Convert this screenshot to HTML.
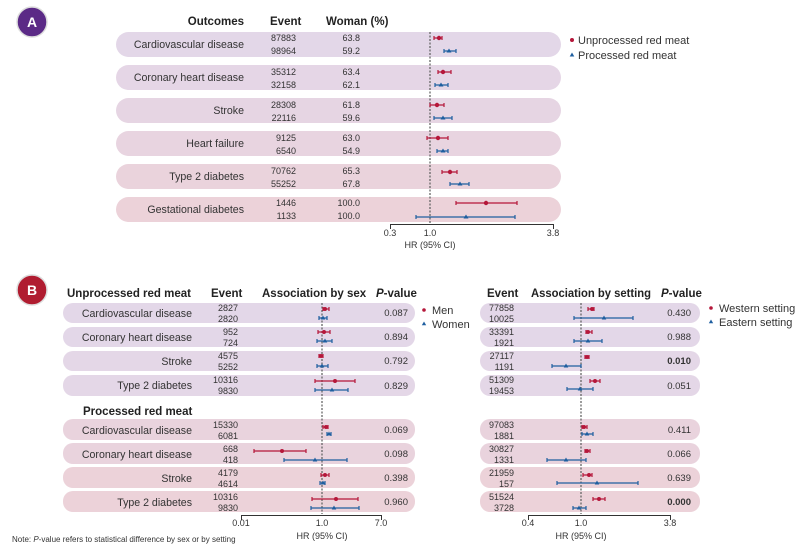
<!DOCTYPE html>
<html><head><meta charset="utf-8"><style>
body{margin:0;background:#fff}
svg{display:block;font-family:"Liberation Sans",sans-serif}
.h{font-weight:bold;font-size:11.5px;fill:#222}
.l{font-size:10.6px;fill:#333}
.n{font-size:9px;fill:#333}
.p{font-size:9.5px;fill:#333}
.r{stroke:#b5173a;stroke-width:1.2;fill:none}
.b{stroke:#1f5fa0;stroke-width:1.2;fill:none}
.rf{fill:#b5173a}.bf{fill:#1f5fa0}
.ax{stroke:#333;stroke-width:1;fill:none}
.d{stroke:#666;stroke-width:1.3;stroke-dasharray:2 1.5}
.lg{font-size:11px;fill:#333}
</style></head><body>
<svg width="811" height="555" viewBox="0 0 811 555">
<!-- Panel A -->
<circle cx="32" cy="22" r="15" fill="#5b2a86" stroke="#ddd" stroke-width="1.5"/>
<text x="32" y="27" text-anchor="middle" fill="#fff" font-weight="bold" font-size="14">A</text>
<text class="h" x="244" y="25" text-anchor="end">Outcomes</text>
<text class="h" x="270" y="25">Event</text>
<text class="h" x="326" y="25">Woman (%)</text>
<g>
<rect x="116" y="32" width="445" height="25" rx="12.5" fill="#e3d7e8"/>
<rect x="116" y="65" width="445" height="25" rx="12.5" fill="#e5d6e6"/>
<rect x="116" y="98" width="445" height="25" rx="12.5" fill="#e6d5e3"/>
<rect x="116" y="131" width="445" height="25" rx="12.5" fill="#e8d4e0"/>
<rect x="116" y="164" width="445" height="25" rx="12.5" fill="#ead3dc"/>
<rect x="116" y="197" width="445" height="25" rx="12.5" fill="#ecd2d9"/>
</g>
<g class="l" text-anchor="end">
<text x="244" y="48">Cardiovascular disease</text>
<text x="244" y="81">Coronary heart disease</text>
<text x="244" y="114">Stroke</text>
<text x="244" y="147">Heart failure</text>
<text x="244" y="180">Type 2 diabetes</text>
<text x="244" y="213">Gestational diabetes</text>
</g>
<g class="n" text-anchor="end">
<text x="296" y="41">87883</text><text x="296" y="54">98964</text>
<text x="296" y="75">35312</text><text x="296" y="88">32158</text>
<text x="296" y="108">28308</text><text x="296" y="121">22116</text>
<text x="296" y="141">9125</text><text x="296" y="154">6540</text>
<text x="296" y="174">70762</text><text x="296" y="187">55252</text>
<text x="296" y="206">1446</text><text x="296" y="219">1133</text>
</g>
<g class="n" text-anchor="end">
<text x="360" y="41">63.8</text><text x="360" y="54">59.2</text>
<text x="360" y="75">63.4</text><text x="360" y="88">62.1</text>
<text x="360" y="108">61.8</text><text x="360" y="121">59.6</text>
<text x="360" y="141">63.0</text><text x="360" y="154">54.9</text>
<text x="360" y="174">65.3</text><text x="360" y="187">67.8</text>
<text x="360" y="206">100.0</text><text x="360" y="219">100.0</text>
</g>
<line class="d" x1="430" y1="32" x2="430" y2="224"/>
<path class="ax" d="M390.5 229V224.5H553.5V229"/>
<g class="n" text-anchor="middle"><text x="390" y="236">0.3</text><text x="430" y="236">1.0</text><text x="553" y="236">3.8</text><text x="430" y="248">HR (95% CI)</text></g>
<g class="r">
<path d="M434 38H442M434 36V40M442 36V40"/>
<path d="M438 72H451M438 70V74M451 70V74"/>
<path d="M430 105H444M430 103V107M444 103V107"/>
<path d="M427 138H448M427 136V140M448 136V140"/>
<path d="M442 172H457M442 170V174M457 170V174"/>
<path d="M456 203H517M456 201V205M517 201V205"/>
</g>
<g class="rf"><circle cx="439" cy="38" r="2.2"/><circle cx="443" cy="72" r="2.2"/><circle cx="437" cy="105" r="2.2"/><circle cx="438" cy="138" r="2.2"/><circle cx="450" cy="172" r="2.2"/><circle cx="486" cy="203" r="2.2"/></g>
<g class="b">
<path d="M444 51H456M444 49V53M456 49V53"/>
<path d="M435 85H448M435 83V87M448 83V87"/>
<path d="M434 118H452M434 116V120M452 116V120"/>
<path d="M437 151H448M437 149V153M448 149V153"/>
<path d="M450 184H469M450 182V186M469 182V186"/>
<path d="M416 217H515M416 215V219M515 215V219"/>
</g>
<g class="bf">
<path d="M449 48.5l2.5 4h-5z"/><path d="M441 82.5l2.5 4h-5z"/><path d="M443 115.5l2.5 4h-5z"/><path d="M443 148.5l2.5 4h-5z"/><path d="M460 181.5l2.5 4h-5z"/><path d="M466 214.5l2.5 4h-5z"/>
</g>
<circle cx="572" cy="40" r="2" class="rf"/><text x="578" y="44" class="lg">Unprocessed red meat</text>
<path d="M572 52.5l2.3 4h-4.6z" class="bf"/><text x="578" y="59" class="lg">Processed red meat</text>

<!-- Panel B -->
<circle cx="32" cy="290" r="15" fill="#b01c30" stroke="#ddd" stroke-width="1.5"/>
<text x="32" y="295" text-anchor="middle" fill="#fff" font-weight="bold" font-size="14">B</text>
<text class="h" x="67" y="297">Unprocessed red meat</text>
<text class="h" x="211" y="297">Event</text>
<text class="h" x="262" y="297">Association by sex</text>
<text class="h" x="376" y="297"><tspan font-style="italic">P</tspan>-value</text>
<text class="h" x="487" y="297">Event</text>
<text class="h" x="531" y="297" textLength="120" lengthAdjust="spacingAndGlyphs">Association by setting</text>
<text class="h" x="661" y="297"><tspan font-style="italic">P</tspan>-value</text>
<text class="h" x="83" y="415">Processed red meat</text>
<g>
<rect x="63" y="303" width="352" height="20" rx="10" fill="#e3d7e8"/>
<rect x="63" y="327" width="352" height="20" rx="10" fill="#e3d7e8"/>
<rect x="63" y="351" width="352" height="20" rx="10" fill="#e4d7e7"/>
<rect x="63" y="375" width="352" height="21" rx="10" fill="#e4d7e7"/>
<rect x="63" y="419" width="352" height="21" rx="10" fill="#e9d3dd"/>
<rect x="63" y="443" width="352" height="21" rx="10" fill="#e9d3dd"/>
<rect x="63" y="467" width="352" height="21" rx="10" fill="#ecd2d9"/>
<rect x="63" y="491" width="352" height="21" rx="10" fill="#ecd2d9"/>
<rect x="480" y="303" width="220" height="20" rx="10" fill="#e3d7e8"/>
<rect x="480" y="327" width="220" height="20" rx="10" fill="#e3d7e8"/>
<rect x="480" y="351" width="220" height="20" rx="10" fill="#e4d7e7"/>
<rect x="480" y="375" width="220" height="21" rx="10" fill="#e4d7e7"/>
<rect x="480" y="419" width="220" height="21" rx="10" fill="#e9d3dd"/>
<rect x="480" y="443" width="220" height="21" rx="10" fill="#e9d3dd"/>
<rect x="480" y="467" width="220" height="21" rx="10" fill="#ecd2d9"/>
<rect x="480" y="491" width="220" height="21" rx="10" fill="#ecd2d9"/>
</g>
<g class="l" text-anchor="end">
<text x="192" y="317">Cardiovascular disease</text>
<text x="192" y="341">Coronary heart disease</text>
<text x="192" y="365">Stroke</text>
<text x="192" y="389">Type 2 diabetes</text>
<text x="192" y="434">Cardiovascular disease</text>
<text x="192" y="458">Coronary heart disease</text>
<text x="192" y="482">Stroke</text>
<text x="192" y="506">Type 2 diabetes</text>
</g>
<g class="n" text-anchor="end">
<text x="238" y="311">2827</text><text x="238" y="322">2820</text>
<text x="238" y="335">952</text><text x="238" y="346">724</text>
<text x="238" y="359">4575</text><text x="238" y="370">5252</text>
<text x="238" y="383">10316</text><text x="238" y="394">9830</text>
<text x="238" y="428">15330</text><text x="238" y="439">6081</text>
<text x="238" y="452">668</text><text x="238" y="463">418</text>
<text x="238" y="476">4179</text><text x="238" y="487">4614</text>
<text x="238" y="500">10316</text><text x="238" y="511">9830</text>
<text x="514" y="311">77858</text><text x="514" y="322">10025</text>
<text x="514" y="335">33391</text><text x="514" y="346">1921</text>
<text x="514" y="359">27117</text><text x="514" y="370">1191</text>
<text x="514" y="383">51309</text><text x="514" y="394">19453</text>
<text x="514" y="428">97083</text><text x="514" y="439">1881</text>
<text x="514" y="452">30827</text><text x="514" y="463">1331</text>
<text x="514" y="476">21959</text><text x="514" y="487">157</text>
<text x="514" y="500">51524</text><text x="514" y="511">3728</text>
</g>
<g class="p" text-anchor="end">
<text x="408" y="316">0.087</text><text x="408" y="340">0.894</text><text x="408" y="364">0.792</text><text x="408" y="389">0.829</text>
<text x="408" y="433">0.069</text><text x="408" y="457">0.098</text><text x="408" y="481">0.398</text><text x="408" y="505">0.960</text>
<text x="691" y="316">0.430</text><text x="691" y="340">0.988</text><text x="691" y="364" font-weight="bold">0.010</text><text x="691" y="389">0.051</text>
<text x="691" y="433">0.411</text><text x="691" y="457">0.066</text><text x="691" y="481">0.639</text><text x="691" y="505" font-weight="bold">0.000</text>
</g>
<line class="d" x1="322" y1="303" x2="322" y2="514"/>
<line class="d" x1="581" y1="303" x2="581" y2="514"/>
<path class="ax" d="M241.5 520V515.5H381.5V520"/>
<path class="ax" d="M528.5 520V515.5H670.5V520"/>
<g class="n" text-anchor="middle">
<text x="241" y="526">0.01</text><text x="322" y="526">1.0</text><text x="381" y="526">7.0</text><text x="322" y="539">HR (95% CI)</text>
<text x="528" y="526">0.4</text><text x="581" y="526">1.0</text><text x="670" y="526">3.8</text><text x="581" y="539">HR (95% CI)</text>
</g>
<text x="12" y="542" font-size="8" fill="#333">Note: <tspan font-style="italic">P</tspan>-value refers to statistical difference by sex or by setting</text>
<g class="r">
<path d="M323 309H329M323 307V311M329 307V311"/>
<path d="M318 332H330M318 330V334M330 330V334"/>
<path d="M319 356H323M319 354V358M323 354V358"/>
<path d="M315 381H355M315 379V383M355 379V383"/>
<path d="M323 427H328M323 425V429M328 425V429"/>
<path d="M254 451H306M254 449V453M306 449V453"/>
<path d="M321 475H329M321 473V477M329 473V477"/>
<path d="M312 499H358M312 497V501M358 497V501"/>
<path d="M588 309H594M588 307V311M594 307V311"/>
<path d="M586 332H592M586 330V334M592 330V334"/>
<path d="M585 357H589M585 355V359M589 355V359"/>
<path d="M590 381H600M590 379V383M600 379V383"/>
<path d="M582 427H587M582 425V429M587 425V429"/>
<path d="M585 451H590M585 449V453M590 449V453"/>
<path d="M583 475H592M583 473V477M592 473V477"/>
<path d="M593 499H605M593 497V501M605 497V501"/>
</g>
<g class="rf">
<circle cx="325" cy="309" r="2"/><circle cx="324" cy="332" r="2"/><circle cx="321" cy="356" r="2"/><circle cx="335" cy="381" r="2"/>
<circle cx="326" cy="427" r="2"/><circle cx="282" cy="451" r="2"/><circle cx="325" cy="475" r="2"/><circle cx="336" cy="499" r="2"/>
<circle cx="592" cy="309" r="2"/><circle cx="588" cy="332" r="2"/><circle cx="587" cy="357" r="2"/><circle cx="595" cy="381" r="2"/>
<circle cx="584" cy="427" r="2"/><circle cx="587" cy="451" r="2"/><circle cx="589" cy="475" r="2"/><circle cx="599" cy="499" r="2"/>
</g>
<g class="b">
<path d="M319 318H327M319 316V320M327 316V320"/>
<path d="M317 341H332M317 339V343M332 339V343"/>
<path d="M317 366H328M317 364V368M328 364V368"/>
<path d="M315 390H348M315 388V392M348 388V392"/>
<path d="M327 434H331M327 432V436M331 432V436"/>
<path d="M284 460H347M284 458V462M347 458V462"/>
<path d="M320 483H325M320 481V485M325 481V485"/>
<path d="M311 508H359M311 506V510M359 506V510"/>
<path d="M574 318H633M574 316V320M633 316V320"/>
<path d="M574 341H602M574 339V343M602 339V343"/>
<path d="M552 366H581M552 364V368M581 364V368"/>
<path d="M567 389H593M567 387V391M593 387V391"/>
<path d="M582 434H593M582 432V436M593 432V436"/>
<path d="M547 460H586M547 458V462M586 458V462"/>
<path d="M557 483H638M557 481V485M638 481V485"/>
<path d="M573 508H586M573 506V510M586 506V510"/>
</g>
<g class="bf">
<path d="M323 315.5l2.3 4h-4.6z"/><path d="M325 338.5l2.3 4h-4.6z"/><path d="M322 363.5l2.3 4h-4.6z"/><path d="M332 387.5l2.3 4h-4.6z"/>
<path d="M329 431.5l2.3 4h-4.6z"/><path d="M315 457.5l2.3 4h-4.6z"/><path d="M323 480.5l2.3 4h-4.6z"/><path d="M334 505.5l2.3 4h-4.6z"/>
<path d="M604 315.5l2.3 4h-4.6z"/><path d="M588 338.5l2.3 4h-4.6z"/><path d="M566 363.5l2.3 4h-4.6z"/><path d="M580 386.5l2.3 4h-4.6z"/>
<path d="M587 431.5l2.3 4h-4.6z"/><path d="M566 457.5l2.3 4h-4.6z"/><path d="M597 480.5l2.3 4h-4.6z"/><path d="M579 505.5l2.3 4h-4.6z"/>
</g>
<circle cx="424" cy="310" r="1.8" class="rf"/><text x="432" y="314" class="lg">Men</text>
<path d="M424 321.5l2.2 3.8h-4.4z" class="bf"/><text x="432" y="328" class="lg">Women</text>
<circle cx="711" cy="308" r="1.8" class="rf"/><text x="719" y="312" class="lg">Western setting</text>
<path d="M711 319.5l2.2 3.8h-4.4z" class="bf"/><text x="719" y="326" class="lg">Eastern setting</text>
</svg>
</body></html>
